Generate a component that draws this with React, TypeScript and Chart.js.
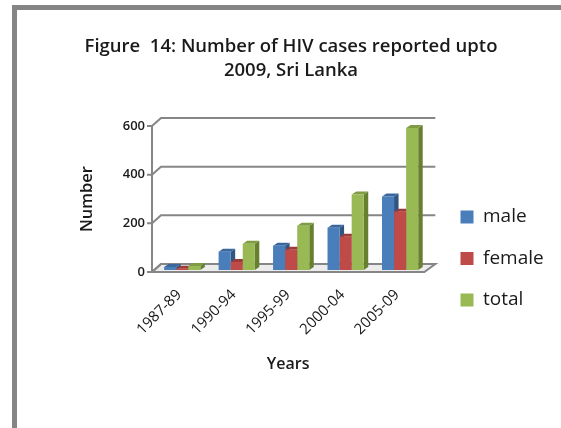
import React, { useEffect, useRef } from "react";
import { Chart, registerables } from "chart.js";

Chart.register(...registerables);

const categories = ["1987-89", "1990-94", "1995-99", "2000-04", "2005-09"];
const male = [12, 75, 100, 174, 302];
const female = [5, 33, 83, 137, 240];
const total = [16, 108, 182, 310, 584];
const yTicks = [0, 200, 400, 600];

const FONT = "Open Sans";
const DEPTH = { x: 4.5, y: -3 };
const BAR_SHIFT = { x: 3, y: -2 };
const WALL = { x: 9, y: -8 };
const shades = [
  { front: "#4a7ebb", side: "#2f5580", top: "#3a679c" },
  { front: "#be4b48", side: "#7e2f2d", top: "#9c3b39" },
  { front: "#98b954", side: "#66802f", top: "#7f9c44" },
];

const scene3d = {
  id: "scene3d",
  afterLayout(chart: any) {
    const lg = chart.legend;
    if (lg) {
      const dx = 438 - lg.left;
      lg.left += dx;
      lg.right += dx;
      const dy = 258.5 - (lg.top + lg.bottom) / 2;
      lg.top += dy;
      lg.bottom += dy;
    }
  },
  beforeDatasetsDraw(chart: any) {
    const { ctx, chartArea: a, scales } = chart;
    const y = scales.y;
    ctx.save();
    ctx.strokeStyle = "#868686";
    ctx.lineWidth = 2;
    ctx.fillStyle = "#ececec";
    ctx.beginPath();
    ctx.moveTo(a.left, a.bottom);
    ctx.lineTo(a.right, a.bottom);
    ctx.lineTo(a.right + WALL.x + 2, a.bottom + WALL.y);
    ctx.lineTo(a.left + WALL.x, a.bottom + WALL.y);
    ctx.closePath();
    ctx.fill();
    ctx.stroke();
    yTicks.forEach((v) => {
      const py = y.getPixelForValue(v);
      ctx.beginPath();
      ctx.moveTo(a.left - 5, py);
      ctx.lineTo(a.left, py);
      ctx.lineTo(a.left + WALL.x, py + WALL.y);
      ctx.lineTo(a.right + WALL.x + 2, py + WALL.y);
      ctx.stroke();
    });
    ctx.beginPath();
    ctx.moveTo(a.left, a.top);
    ctx.lineTo(a.left, a.bottom);
    ctx.stroke();
    ctx.restore();

    ctx.save();
    ctx.translate(BAR_SHIFT.x, BAR_SHIFT.y);
    chart.data.datasets.forEach((_: any, i: number) => {
      chart.getDatasetMeta(i).data.forEach((b: any) => {
        const l = b.x - b.width / 2;
        const r = b.x + b.width / 2;
        ctx.fillStyle = shades[i].side;
        ctx.beginPath();
        ctx.moveTo(r, b.y);
        ctx.lineTo(r + DEPTH.x, b.y + DEPTH.y);
        ctx.lineTo(r + DEPTH.x, b.base + DEPTH.y);
        ctx.lineTo(r, b.base);
        ctx.closePath();
        ctx.fill();
        ctx.fillStyle = shades[i].top;
        ctx.beginPath();
        ctx.moveTo(l, b.y);
        ctx.lineTo(l + DEPTH.x, b.y + DEPTH.y);
        ctx.lineTo(r + DEPTH.x, b.y + DEPTH.y);
        ctx.lineTo(r, b.y);
        ctx.closePath();
        ctx.fill();
      });
    });
  },
  afterDatasetsDraw(chart: any) {
    chart.ctx.restore();
  },
};

export default function App() {
  const ref = useRef<HTMLCanvasElement>(null);
  useEffect(() => {
    const mk = (label: string, data: number[], i: number) => ({
      label,
      data,
      backgroundColor: shades[i].front,
      categoryPercentage: 0.665,
      barPercentage: 1,
    });
    const chart = new Chart(ref.current!, {
      type: "bar",
      data: {
        labels: categories,
        datasets: [mk("male", male, 0), mk("female", female, 1), mk("total", total, 2)],
      },
      plugins: [scene3d],
      options: {
        animation: false,
        responsive: false,
        layout: { padding: { left: 42, right: 21, top: 0, bottom: 54 } },
        plugins: {
          title: {
            display: true,
            text: ["Figure  14: Number of HIV cases reported upto", "2009, Sri Lanka"],
            color: "#1a1a1a",
            font: { family: FONT, size: 18.5, weight: "600", lineHeight: 1.3 },
            padding: { top: 35, bottom: 43 },
            align: "center",
          },
          legend: {
            position: "right",
            labels: {
              boxWidth: 13,
              boxHeight: 13,
              padding: 22.5,
              color: "#1a1a1a",
              font: { family: FONT, size: 19 },
            },
          },
          tooltip: { enabled: false },
        },
        scales: {
          x: {
            grid: { display: false, drawTicks: false },
            border: { display: false },
            afterFit: (s: any) => { s.height = 102; },
            ticks: {
              minRotation: 45,
              maxRotation: 45,
              padding: 14,
              color: "#1a1a1a",
              font: { family: FONT, size: 15 },
            },
            title: {
              display: true,
              text: "Years",
              color: "#1a1a1a",
              font: { family: FONT, size: 16, weight: "600" },
              padding: { top: 0, bottom: 0 },
            },
          },
          y: {
            min: 0,
            max: 600,
            grid: { display: false, drawTicks: false },
            border: { display: false },
            afterFit: (s: any) => { s.width = 110; },
            ticks: {
              stepSize: 200,
              padding: 7,
              color: "#1a1a1a",
              font: { family: FONT, size: 13, weight: "600" },
            },
            title: {
              display: true,
              text: "Number",
              color: "#1a1a1a",
              font: { family: FONT, size: 16.5, weight: "600" },
              padding: { top: 35, bottom: 0 },
            },
          },
        },
      },
    } as any);
    return () => chart.destroy();
  }, []);
  return (
    <div style={{ position: "absolute", left: 0, top: 0, width: 561, height: 428, overflow: "hidden", background: "#fff" }}>
      <div style={{ position: "absolute", left: 12, top: 5, width: 549, height: 423, borderLeft: "5px solid #858585", borderTop: "5px solid #858585", boxSizing: "border-box" }} />
      <canvas ref={ref} width={561} height={428} style={{ position: "absolute", left: 0, top: 0, filter: "blur(0.4px)" }} />
    </div>
  );
}
